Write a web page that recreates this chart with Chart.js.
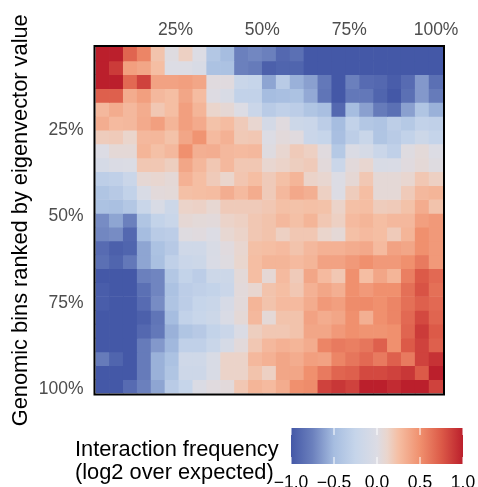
<!DOCTYPE html>
<html lang="en">
<head>
    <meta charset="UTF-8">
    <script src="https://cdn.jsdelivr.net/npm/chart.js"></script>
    <title>chart</title>
    <style>
        body{ margin:0; background:#fff; }
        #wrap{ position:relative; width:478px; height:487px; overflow:hidden; font-family:"Liberation Sans"; }
        #heat{ position:absolute; left:0; top:0; }
        #bar{ position:absolute; left:260px; top:420px; }
        #legendTitle{ position:absolute; left:75px; top:436.7px; font-size:21.8px; line-height:23.5px; color:#000; white-space:nowrap; }
    </style>
</head>
<body>
    <div id="wrap">
        <canvas id="heat" width="478" height="487"></canvas>
        <canvas id="bar" width="218" height="67"></canvas>
        <div id="legendTitle">Interaction frequency<br>(log2 over expected)</div>
    </div>
    <script>
        let yTitle = "Genomic bins ranked by eigenvector value";
        let tickPct = [25,50,75,100];
        let barTicks = [-1,-0.5,0,0.5,1];

        // colour ramp
        let rampVals = [-1,-0.75,-0.5,-0.25,0,0.12,0.25,0.5,0.75,1];
        let rampCols = ["#4458a7","#6b80bd","#a6bde0","#c6d5ea","#dcdce4","#ead5cc","#f5bea3","#f0906e","#dc5a48","#bb1f2c"];

        // log2 over expected, one list per row (top to bottom), 25 columns
        let cells = [
            [1,1,.7,.55,.22,.02,.15,0,-.4,-.5,-.75,-.72,-.75,-.9,-.85,-1,-1,-1,-1,-1,-1,-1,-1,-1,-1],
            [1,.88,.42,.38,.25,0,0,-.05,-.45,-.45,-.75,-.78,-.95,-.92,-.92,-1,-1,-1,-1,-1,-1,-1,-1,-1,-1],
            [1,1,.68,.85,.4,.4,.42,.38,.03,.03,-.22,-.25,-.6,-.35,-.55,-.62,-.8,-1,-.75,-.88,-.9,-.97,-.88,-.65,-.85],
            [.72,.72,.35,.42,.28,.25,.38,.26,.01,-.05,-.28,-.28,-.5,-.48,-.45,-.58,-.82,-1,-.8,-.8,-.92,-1,-.85,-.65,-.78],
            [.28,.35,.28,.35,.2,.25,.42,.3,.12,.08,0,-.2,-.35,-.3,-.33,-.42,-.48,-.9,-.5,-.62,-.78,-.85,-.62,-.42,-.55],
            [.34,.27,.28,.36,.42,.3,.42,.36,.23,.26,.18,.1,-.1,.03,-.18,-.2,-.33,-.5,-.28,-.4,-.43,-.32,-.38,-.28,-.3],
            [.17,.18,.12,.28,.29,.23,.38,.48,.27,.32,.19,.2,0,.05,.03,-.2,-.25,-.48,-.32,-.22,-.42,-.35,-.28,-.18,-.26],
            [0,.07,.07,.3,.24,.28,.5,.33,.34,.28,.27,.28,.02,.1,.18,.15,.03,-.38,-.02,-.08,-.2,-.3,.02,.06,0],
            [-.08,-.02,-.01,.2,.2,.16,.38,.29,.2,.28,.2,.2,.1,.13,.16,.18,.05,-.2,.05,.1,-.05,-.03,.03,.07,.02],
            [-.32,-.3,-.2,.08,.1,.07,.32,.25,.18,.12,.21,.25,.18,.24,.3,.13,.1,0,.08,.2,.07,.07,.1,.2,.15],
            [-.42,-.37,-.28,-.05,.05,.06,.24,.25,.26,.34,.27,.35,.18,.28,.37,.33,.15,0,.17,.25,.07,.07,.18,.28,.3],
            [-.45,-.47,-.4,-.22,-.05,-.18,.13,.14,.09,.18,.18,.18,.2,.24,.23,.24,.23,.13,.24,.25,.17,.18,.23,.35,.22],
            [-.7,-.6,-.75,-.42,-.27,-.22,.08,.06,.05,.13,.15,.2,.22,.28,.24,.3,.2,.15,.27,.3,.25,.28,.28,.42,.45],
            [-.72,-.7,-.9,-.5,-.35,-.33,.02,.03,0,.09,.13,.2,.22,.15,.2,.2,.12,.07,.24,.27,.25,.18,.3,.5,.45],
            [-.88,-.95,-.92,-.6,-.45,-.37,-.15,-.15,-.05,.03,.1,.24,.25,.27,.22,.28,.32,.32,.35,.37,.27,.4,.38,.5,.45],
            [-.85,-.92,-.8,-.6,-.47,-.3,-.2,-.18,-.03,.02,.11,.25,.3,.3,.27,.3,.4,.4,.45,.5,.45,.45,.5,.6,.45],
            [-1,-1,-1,-.75,-.73,-.4,-.27,-.33,-.18,-.18,.06,.25,.08,.27,.18,.38,.27,.2,.5,.25,.38,.3,.58,.75,.68],
            [-.97,-1,-1,-.85,-.73,-.45,-.33,-.3,-.27,-.2,.05,.1,.22,.25,.2,.32,.38,.33,.5,.45,.5,.5,.65,.78,.65],
            [-.97,-1,-1,-.88,-.7,-.43,-.33,-.25,-.22,-.07,.05,.3,.22,.27,.27,.35,.45,.42,.52,.53,.5,.55,.65,.72,.68],
            [-1,-1,-1,-.95,-.82,-.5,-.28,-.23,-.18,-.03,.07,.28,.07,.22,.22,.4,.35,.38,.5,.33,.5,.55,.68,.82,.7],
            [-1,-1,-1,-.9,-.8,-.55,-.42,-.37,-.27,-.2,-.02,.16,.2,.2,.22,.38,.38,.45,.5,.48,.48,.5,.7,.88,.75],
            [-1,-1,-1,-.78,-.65,-.52,-.3,-.3,-.22,-.08,.05,.2,.28,.32,.3,.35,.55,.6,.58,.62,.72,.5,.75,.85,.72],
            [-.78,-.92,-1,-.78,-.55,-.45,-.15,-.15,-.05,.13,.13,.28,.32,.38,.35,.42,.4,.55,.62,.68,.6,.72,.6,.85,.92],
            [-1,-1,-1,-.78,-.55,-.42,-.17,-.17,-.05,.13,.13,.22,.15,.38,.38,.5,.6,.7,.72,.82,.82,.85,.9,.75,1],
            [-1,-1,-.88,-.75,-.6,-.35,-.25,-.02,.03,.05,.2,.3,.27,.35,.5,.52,.85,.9,.85,1,1,.95,1,1,.85]
        ];

        function hexRgb(h){
            return [1,3,5].map(i=>parseInt(h.substr(i,2),16));
        }
        function valueColor(v){
            let i = 0;
            while(i < rampVals.length-2 && v > rampVals[i+1]) i++;
            let t = Math.max(0, Math.min(1, (v-rampVals[i])/(rampVals[i+1]-rampVals[i])));
            let a = hexRgb(rampCols[i]), b = hexRgb(rampCols[i+1]);
            let c = a.map((x,k)=>Math.round(x+(b[k]-x)*t));
            return `rgb(${c[0]},${c[1]},${c[2]})`;
        }

        // panel border
        let panelBorder = {
            id:"panelBorder",
            afterDatasetsDraw(chart){
                let a = chart.chartArea, c = chart.ctx;
                c.save();
                c.strokeStyle = "#000";
                c.lineWidth = 2;
                c.strokeRect(a.left-1, a.top-1, a.width+2, a.height+2);
                c.restore();
            }
        };

        let tickFont = {family:"Liberation Sans", size:17.5};

        new Chart(document.querySelector("#heat"), {
            type:"bar",
            data:{
                datasets:cells.map((row,r)=>({
                    data:row.map((v,c)=>({x:c+0.5, y:[r,r+1]})),
                    backgroundColor:row.map(valueColor),
                    grouped:false,
                    barPercentage:1,
                    categoryPercentage:1,
                }))
            },
            options:{
                responsive:false,
                animation:false,
                layout:{padding:{left:0, top:0, right:35, bottom:93.5}},
                plugins:{legend:{display:false}, tooltip:{enabled:false}},
                scales:{
                    x:{
                        type:"linear", position:"top", min:0, max:25, offset:false,
                        grid:{display:false, drawTicks:false}, border:{display:false},
                        afterBuildTicks(s){ s.ticks = tickPct.map(p=>({value:p/4-0.5})); },
                        afterFit(s){ s.height = 47; },
                        ticks:{
                            autoSkip:false, maxRotation:0, color:"#4d4d4d", font:tickFont, padding:6,
                            callback:(v,i)=>tickPct[i]+"%"
                        }
                    },
                    y:{
                        type:"linear", reverse:true, min:0, max:25,
                        grid:{display:false, drawTicks:false}, border:{display:false},
                        // labels sit a little under the bin centre in the reference
                        afterBuildTicks(s){ s.ticks = tickPct.map(p=>({value:p/4-0.5+0.22})); },
                        afterFit(s){ s.width = 95.5; },
                        ticks:{
                            autoSkip:false, color:"#4d4d4d", font:tickFont, padding:12,
                            callback:(v,i)=>tickPct[i]+"%"
                        },
                        title:{
                            display:true, text:yTitle, color:"#000", padding:{top:8, bottom:0},
                            font:{family:"Liberation Sans", size:21.8}
                        }
                    }
                }
            },
            plugins:[panelBorder]
        });

        // colour bar, white ticks top and bottom
        let barTickMarks = {
            id:"barTickMarks",
            afterDatasetsDraw(chart){
                let a = chart.chartArea, c = chart.ctx, s = chart.scales.x;
                c.save();
                c.strokeStyle = "#fff";
                c.lineWidth = 1;
                barTicks.forEach(v=>{
                    let px = s.getPixelForValue(v);
                    c.beginPath();
                    c.moveTo(px, a.top); c.lineTo(px, a.top+7);
                    c.moveTo(px, a.bottom-7); c.lineTo(px, a.bottom);
                    c.stroke();
                });
                c.restore();
            }
        };

        new Chart(document.querySelector("#bar"), {
            type:"bar",
            data:{
                labels:["scale"],
                datasets:[{
                    data:[[-1,1]],
                    barPercentage:1,
                    categoryPercentage:1,
                    backgroundColor(ctx){
                        let a = ctx.chart.chartArea;
                        if(!a) return "#ccc";
                        let s = ctx.chart.scales.x;
                        let g = ctx.chart.ctx.createLinearGradient(s.getPixelForValue(-1),0,s.getPixelForValue(1),0);
                        rampVals.forEach((v,i)=>g.addColorStop((v+1)/2, rampCols[i]));
                        return g;
                    }
                }]
            },
            options:{
                indexAxis:"y",
                responsive:false,
                animation:false,
                layout:{padding:{left:31, top:8, right:15, bottom:0}},
                plugins:{legend:{display:false}, tooltip:{enabled:false}},
                scales:{
                    x:{
                        type:"linear", min:-1, max:1, offset:false,
                        grid:{display:false}, border:{display:false},
                        afterBuildTicks(s){ s.ticks = barTicks.map(v=>({value:v})); },
                        afterFit(s){ s.height = 23; },
                        ticks:{
                            autoSkip:false, maxRotation:0, color:"#000", font:tickFont, padding:1,
                            callback:v=>(v<0?"\u2212":"")+Math.abs(v).toFixed(1)
                        }
                    },
                    y:{display:false}
                }
            },
            plugins:[barTickMarks]
        });
    </script>
</body>
</html>
